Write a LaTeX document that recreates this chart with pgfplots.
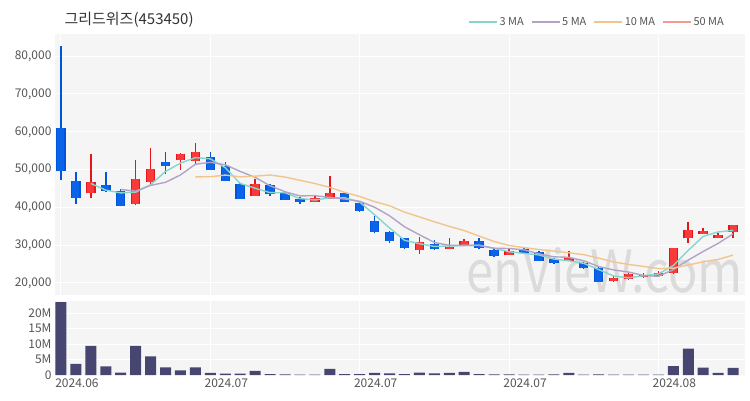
\documentclass[border=0pt]{standalone}
\usepackage{fontspec}
\setmainfont{Noto Sans CJK KR}
\usepackage{pgfplots}
\usepackage{pgfplotstable}
\pgfplotsset{compat=1.18}

\definecolor{bg}{HTML}{F5F5F5}
\definecolor{upc}{HTML}{E5161B}
\definecolor{upf}{HTML}{FA3A3A}
\definecolor{dnc}{HTML}{0055DA}
\definecolor{dnf}{HTML}{0A64EA}
\definecolor{ma3}{HTML}{86D6CB}
\definecolor{ma5}{HTML}{B3A3C6}
\definecolor{ma10}{HTML}{F2C58E}
\definecolor{ma50}{HTML}{F49A92}
\definecolor{vol}{HTML}{464670}
\definecolor{tickc}{HTML}{555555}
\definecolor{titlec}{HTML}{333333}

% candles: x open high low close
\pgfplotstableread{
x o h l c
2 43700 54000 42400 46800
5 40800 52500 40700 47400
6 46600 55800 46300 50200
8 52500 54300 49900 54000
9 52400 57000 51200 54600
13 43000 47400 42900 46100
17 41400 43000 41300 42400
18 42100 48300 42100 43700
24 28700 32200 27700 30900
26 29100 32000 29000 29600
27 29900 31600 29800 31200
30 27400 29200 27300 28500
34 25900 28500 25800 26500
37 20400 21900 20300 21400
38 21000 22700 20900 22400
39 21500 22700 21400 22000
40 21900 23100 21800 22700
41 22600 29300 22500 29200
42 31800 36200 30700 34000
43 33000 34500 32900 33800
44 31800 33100 31800 32700
45 33600 35400 31800 35300
}\up
\pgfplotstableread{
x o h l c
0 61100 82600 47200 49600
1 47000 49400 40900 42600
3 45900 49400 44200 44300
4 44400 44800 40300 40400
7 52000 54700 48800 50900
10 53400 54600 49800 49900
11 51000 52000 46900 47000
12 46100 46400 42100 42100
14 45900 46100 43100 43500
15 43700 44400 41900 42000
16 42100 42800 40900 41500
19 43700 44200 41400 41500
20 41100 41300 38900 39000
21 36500 37700 33100 33600
22 33600 33700 30500 31100
23 31800 32000 29100 29200
25 30300 31400 28800 28900
28 31200 31800 29100 29200
29 28700 29100 27000 27100
31 29000 29300 27800 27900
32 28100 28500 25800 25900
33 26300 26500 25100 25200
35 25400 25600 23800 23900
36 24000 24500 20200 20300
}\dn
% volume in millions
\pgfplotstableread{
x v
0 23.5
1 3.6
2 9.4
3 2.8
4 0.8
5 9.4
6 6.0
7 2.5
8 1.5
9 2.5
10 0.7
11 0.45
12 0.45
13 1.3
14 0.25
15 0.2
16 0.1
17 0.1
18 2.0
19 0.3
20 0.25
21 0.7
22 0.5
23 0.3
24 0.8
25 0.5
26 0.7
27 1.0
28 0.3
29 0.2
30 0.2
31 0.15
32 0.15
33 0.2
34 0.7
35 0.15
36 0.2
37 0.1
38 0.1
39 0.1
40 0.15
41 2.9
42 8.5
43 2.4
44 0.7
45 2.3
}\vol

\pgfplotsset{
  panel/.style={scale only axis, width=690pt, xmin=-0.4, xmax=45.8,
    axis background/.style={fill=bg}, axis line style={draw=none},
    major tick length=0pt, grid=major, major grid style={white, line width=1pt},
    xtick={0,10,20,30,40},
    tick label style={font=\fontsize{12}{12}\selectfont, text=tickc},
    /pgf/number format/assume math mode=true},
  wick/.style={draw=none, mark=none, forget plot,
    error bars/y dir=plus, error bars/y explicit, error bars/error mark=none,
    error bars/error bar style={draw=#1, line width=1.5pt}},
  body/.style 2 args={draw=none, mark=none, forget plot,
    error bars/y dir=plus, error bars/y explicit, error bars/error mark=none,
    error bars/error bar style={draw=#1, line width=#2}},
}

\begin{document}
\begin{tikzpicture}
\path[use as bounding box, fill=white] (0,0) rectangle (750pt,400pt);

\begin{axis}[panel, at={(55pt,105pt)}, anchor=south west, height=261pt,
  ymin=16825, ymax=85870, ytick={20000,30000,...,80000}, xticklabels={},
  scaled y ticks=false,
  yticklabel style={/pgf/number format/1000 sep={,}},
  legend columns=4,
  legend style={draw=none, fill=none, at={(1,1)}, anchor=south east,
    xshift=-16pt, yshift=3pt, font=\fontsize{11}{11}\selectfont, text=tickc,
    /tikz/every even column/.append style={column sep=5pt}},
  legend image code/.code={\draw[#1, line width=1.4pt] (0pt,0pt) -- (28pt,0pt);},
]
\node[text=black!14, font=\fontsize{58}{58}\selectfont, xscale=0.84]
  at (rel axis cs:0.797,0.095) {enVieW.com};

\addplot[wick=upc] table[x=x, y=l, y error plus expr=\thisrow{h}-\thisrow{l}] {\up};
\addplot[body={upc}{9.5pt}] table[x=x, y=o, y error plus expr=\thisrow{c}-\thisrow{o}] {\up};
\addplot[body={upf}{7pt}] table[x=x, y=o, y error plus expr=\thisrow{c}-\thisrow{o}] {\up};
\addplot[wick=dnc] table[x=x, y=l, y error plus expr=\thisrow{h}-\thisrow{l}] {\dn};
\addplot[body={dnc}{9.5pt}] table[x=x, y=c, y error plus expr=\thisrow{o}-\thisrow{c}] {\dn};
\addplot[body={dnf}{7pt}] table[x=x, y=c, y error plus expr=\thisrow{o}-\thisrow{c}] {\dn};

\addplot[ma3, line width=1.4pt, mark=none, line join=round] coordinates {
(2,46333) (3,44567) (4,43833) (5,44033) (6,46000) (7,49500) (8,51700) (9,53167)
(10,52833) (11,50500) (12,46333) (13,45067) (14,43900) (15,43867) (16,42333)
(17,41967) (18,42533) (19,42533) (20,41400) (21,38033) (22,34567) (23,31300)
(24,30400) (25,29667) (26,29800) (27,29900) (28,30000) (29,29167) (30,28267)
(31,27833) (32,27433) (33,26333) (34,25867) (35,25200) (36,23567) (37,21867)
(38,21367) (39,21933) (40,22367) (41,24633) (42,28633) (43,32333) (44,33500)
(45,33933)};
\addlegendentry{3 MA}
\addplot[ma5, line width=1.4pt, mark=none, line join=round] coordinates {
(4,44740) (5,44300) (6,45820) (7,46640) (8,48580) (9,51420) (10,51920) (11,51280)
(12,49520) (13,47940) (14,45720) (15,44140) (16,43040) (17,43100) (18,42620)
(19,42220) (20,41620) (21,40040) (22,37780) (23,34880) (24,32760) (25,30740)
(26,29940) (27,29960) (28,29960) (29,29200) (30,29120) (31,28780) (32,27720)
(33,26920) (34,26800) (35,25880) (36,24360) (37,23460) (38,22900) (39,22000)
(40,21760) (41,23540) (42,26060) (43,28340) (44,30480) (45,33000)};
\addlegendentry{5 MA}
\addplot[ma10, line width=1.4pt, mark=none, line join=round] coordinates {
(9,48080) (10,48110) (11,48550) (12,48080) (13,48260) (14,48570) (15,48030)
(16,47160) (17,46310) (18,45280) (19,43970) (20,42880) (21,41540) (22,40440)
(23,38750) (24,37490) (25,36180) (26,34990) (27,33870) (28,32420) (29,30980)
(30,29930) (31,29360) (32,28840) (33,28440) (34,28000) (35,27500) (36,26570)
(37,25590) (38,24910) (39,24390) (40,23810) (41,23940) (42,24750) (43,25610)
(44,26230) (45,27370)};
\addlegendentry{10 MA}
\addlegendimage{ma50}
\addlegendentry{50 MA}
\end{axis}

\begin{axis}[panel, at={(55pt,25pt)}, anchor=south west, height=74pt,
  ymin=0, ymax=23.9, ytick={0,5,10,15,20}, yticklabels={0,5M,10M,15M,20M},
  xticklabels={2024.06,2024.07,2024.07,2024.07,2024.08},
  xticklabel style={xshift=16pt},
]
\addplot[ybar, bar width=11pt, fill=vol, draw=none] table[x=x, y=v] {\vol};
\end{axis}

\node[anchor=west, text=titlec, font=\fontsize{15}{15}\selectfont]
  at (61pt,380pt) {그리드위즈(453450)};
\end{tikzpicture}
\end{document}
